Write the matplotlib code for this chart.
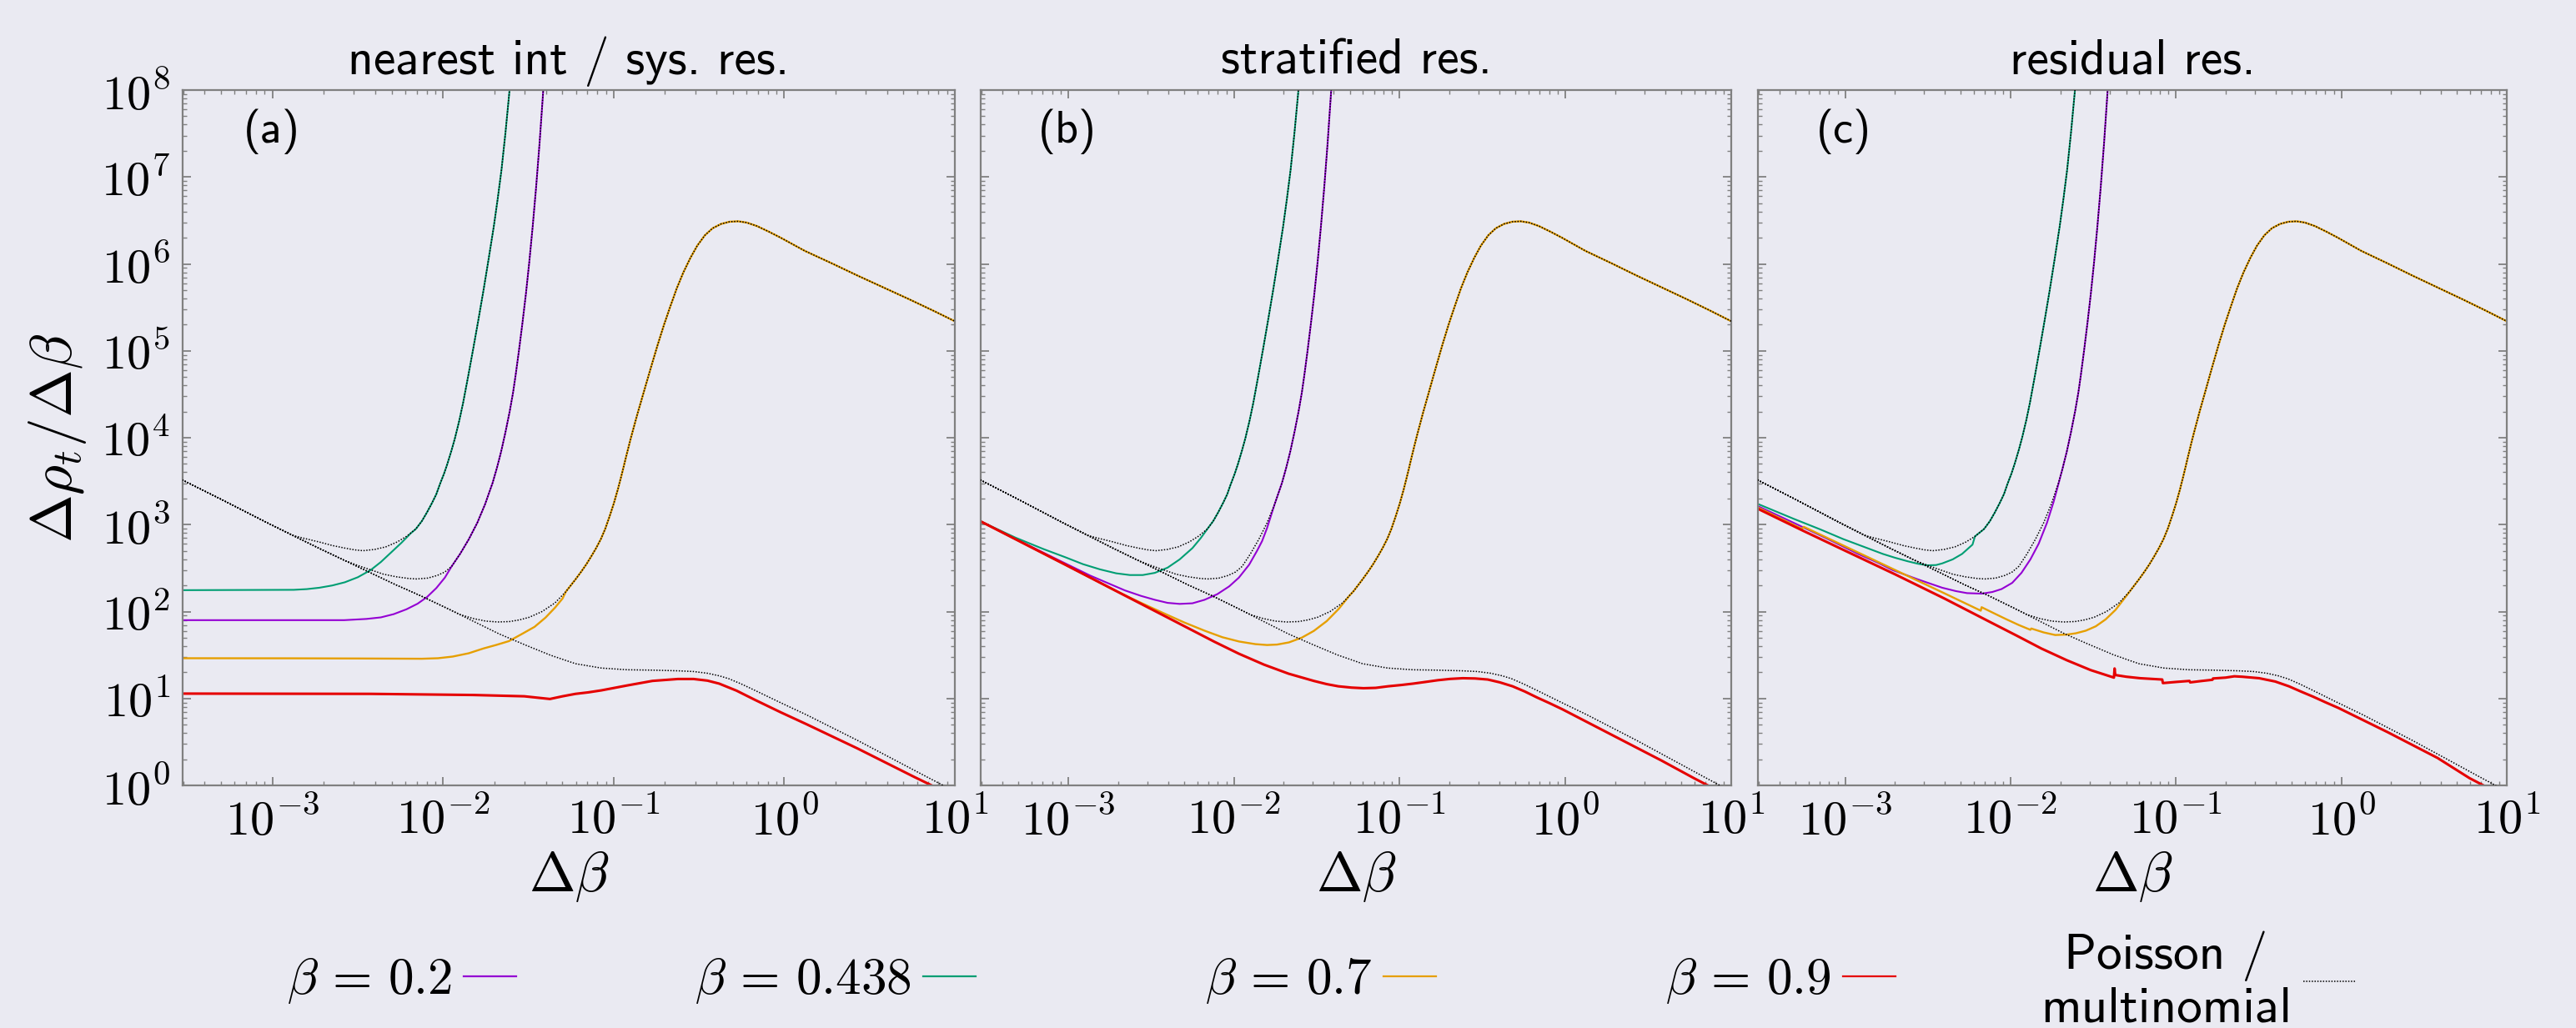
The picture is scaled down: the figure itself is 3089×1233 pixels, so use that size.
import matplotlib
matplotlib.use("Agg")
import numpy as np
import matplotlib.pyplot as plt
from matplotlib.lines import Line2D
from matplotlib.ticker import LogLocator, FuncFormatter, NullFormatter

# ---------------- data ----------------
# all curves given as (log10 of Δβ, log10 of Δρ_t/Δβ)
beta_labels = ["0.2", "0.438", "0.7", "0.9"]
panel_titles = ["nearest int / sys. res.", "stratified res.", "residual res."]
panel_tags = ["(a)", "(b)", "(c)"]
poisson_label = "Poisson /\nmultinomial"

# Poisson / multinomial reference curves (identical in the three panels)
pois_02_lx = [-3.53, -3.30, -3.03, -2.88, -2.73, -2.58, -2.50, -2.425, -2.35, -2.275, -2.20, -2.155,
              -2.09, -2.035, -1.99, -1.95, -1.90, -1.85, -1.80, -1.755, -1.71, -1.685, -1.66, -1.635,
              -1.61, -1.59, -1.575, -1.555, -1.535, -1.515, -1.495, -1.475, -1.455, -1.435, -1.415,
              -1.40]
pois_02_ly = [3.515, 3.29, 3.02, 2.875, 2.73, 2.59, 2.53, 2.48, 2.43, 2.40, 2.38, 2.375,
              2.385, 2.415, 2.455, 2.52, 2.665, 2.83, 3.02, 3.23, 3.48, 3.65, 3.84, 4.06,
              4.30, 4.52, 4.72, 5.01, 5.32, 5.65, 6.02, 6.43, 6.88, 7.38, 7.94,
              8.4]

pois_0438_lx = [-3.53, -3.30, -3.03, -2.88, -2.80, -2.726, -2.65, -2.576, -2.52, -2.47, -2.40, -2.335,
                -2.27, -2.215, -2.16, -2.125, -2.095, -2.065, -2.04, -2.02, -1.995, -1.975, -1.95,
                -1.93, -1.905, -1.883, -1.853, -1.823, -1.793, -1.763, -1.733, -1.703, -1.68, -1.658,
                -1.635, -1.613, -1.59]
pois_0438_ly = [3.515, 3.29, 3.02, 2.875, 2.835, 2.80, 2.76, 2.73, 2.71, 2.70, 2.715, 2.745,
                2.80, 2.865, 2.95, 3.04, 3.14, 3.25, 3.35, 3.46, 3.585, 3.70, 3.86,
                4.00, 4.20, 4.40, 4.71, 5.03, 5.36, 5.70, 6.06, 6.43, 6.75, 7.08,
                7.50, 7.95, 8.45]

pois_07_lx = [-3.53, -3.30, -3.03, -2.88, -2.73, -2.58, -2.43, -2.28, -2.13, -1.98, -1.90, -1.824,
              -1.75, -1.68, -1.61, -1.55, -1.494, -1.42, -1.344, -1.28, -1.224, -1.19, -1.16, -1.13,
              -1.103, -1.075, -1.05, -1.025, -1.0, -0.975, -0.95, -0.925, -0.899, -0.86, -0.82,
              -0.78, -0.742, -0.705, -0.67, -0.63, -0.592, -0.55, -0.51, -0.465, -0.42, -0.37,
              -0.32, -0.27, -0.22, -0.16, -0.09, -0.02, 0.05, 0.12, 0.28, 0.43, 0.58, 0.73, 0.87, 1.0]
pois_07_ly = [3.515, 3.29, 3.02, 2.875, 2.73, 2.59, 2.45, 2.31, 2.18, 2.04, 1.965, 1.92,
              1.89, 1.88, 1.885, 1.905, 1.935, 2.0, 2.10, 2.23, 2.37, 2.46, 2.545, 2.64,
              2.73, 2.835, 2.95, 3.09, 3.24, 3.41, 3.60, 3.80, 4.0, 4.28, 4.55,
              4.82, 5.07, 5.30, 5.5, 5.72, 5.9, 6.07, 6.21, 6.33, 6.41, 6.46,
              6.485, 6.49, 6.475, 6.435, 6.37, 6.30, 6.225, 6.15, 6.005, 5.865, 5.73, 5.595, 5.465, 5.34]

pois_09_lx = [-3.53, -3.30, -3.03, -2.88, -2.73, -2.58, -2.43, -2.28, -2.13, -1.98, -1.83, -1.674,
              -1.524, -1.374, -1.224, -1.073, -0.92, -0.773, -0.62, -0.532, -0.45, -0.38, -0.322,
              -0.25, -0.172, -0.02, 0.129, 0.429, 0.82, 1.0]
pois_09_ly = [3.515, 3.29, 3.02, 2.875, 2.73, 2.59, 2.45, 2.31, 2.18, 2.04, 1.895, 1.745,
              1.62, 1.50, 1.40, 1.35, 1.33, 1.326, 1.318, 1.31, 1.29, 1.26, 1.225,
              1.165, 1.093, 0.95, 0.813, 0.518, 0.114, -0.07]

# ---- panel (a): nearest int / systematic resampling (own part, then it follows Poisson)
a_02_lx = [-3.53, -2.58, -2.45, -2.365, -2.29, -2.215, -2.15, -2.095, -2.04, -1.99]
a_02_ly = [1.901, 1.901, 1.915, 1.933, 1.97, 2.026, 2.09, 2.166, 2.27, 2.39]
a_0438_lx = [-3.53, -2.876, -2.80, -2.726, -2.65, -2.576, -2.50, -2.425, -2.365, -2.305, -2.245, -2.19]
a_0438_ly = [2.246, 2.25, 2.258, 2.274, 2.30, 2.337, 2.395, 2.477, 2.57, 2.68, 2.79, 2.90]
a_07_lx = [-3.53, -2.9, -2.5, -2.125, -2.03, -1.944, -1.85, -1.764, -1.69, -1.614, -1.54, -1.464,
           -1.40, -1.344, -1.30]
a_07_ly = [1.463, 1.462, 1.46, 1.457, 1.463, 1.482, 1.52, 1.575, 1.615, 1.66, 1.74, 1.824,
           1.93, 2.045, 2.15]
a_09_lx = [-3.53, -2.425, -1.824, -1.524, -1.374, -1.30, -1.224, -1.15, -1.073, -0.923, -0.773,
           -0.623, -0.532, -0.45, -0.382, -0.28, -0.172, -0.02, 0.129, 0.429, 0.760, 1.0]
a_09_ly = [1.056, 1.053, 1.040, 1.025, 0.994, 1.025, 1.053, 1.07, 1.093, 1.149, 1.202,
           1.224, 1.224, 1.205, 1.171, 1.09, 0.984, 0.84, 0.705, 0.425, 0.099, -0.13]

# ---- panel (b): stratified resampling
b_02_lx = [-3.53, -3.30, -3.077, -2.867, -2.657, -2.56, -2.477, -2.40, -2.327, -2.25, -2.177, -2.10,
           -2.028, -1.97, -1.908, -1.86, -1.83, -1.80]
b_02_ly = [3.04, 2.82, 2.61, 2.414, 2.243, 2.18, 2.135, 2.10, 2.088, 2.095, 2.135, 2.20,
           2.29, 2.39, 2.539, 2.70, 2.81, 2.96]
b_0438_lx = [-3.53, -3.317, -3.15, -3.017, -2.91, -2.807, -2.71, -2.627, -2.55, -2.477, -2.40, -2.327,
             -2.25, -2.20]
b_0438_ly = [3.04, 2.85, 2.72, 2.625, 2.545, 2.485, 2.44, 2.42, 2.42, 2.445, 2.505, 2.60,
             2.73, 2.845]
b_07_lx = [-3.53, -3.017, -2.717, -2.627, -2.52, -2.417, -2.30, -2.177, -2.07, -1.968, -1.87, -1.80,
           -1.74, -1.668, -1.59, -1.518, -1.44, -1.368, -1.30]
b_07_ly = [3.04, 2.539, 2.243, 2.16, 2.065, 1.975, 1.875, 1.78, 1.705, 1.655, 1.625, 1.615,
           1.62, 1.645, 1.70, 1.777, 1.89, 2.03, 2.19]
b_09_lx = [-3.53, -3.017, -2.717, -2.417, -2.118, -1.97, -1.818, -1.67, -1.518, -1.44, -1.37, -1.29,
           -1.218, -1.145, -1.07, -0.99, -0.918, -0.845, -0.77, -0.695, -0.619, -0.545, -0.469,
           -0.395, -0.319, -0.245, -0.17, -0.095, -0.019, 0.281, 0.580, 0.775, 1.0]
b_09_ly = [3.04, 2.539, 2.243, 1.948, 1.653, 1.515, 1.389, 1.285, 1.202, 1.165, 1.14, 1.125,
           1.118, 1.122, 1.14, 1.155, 1.171, 1.19, 1.21, 1.225, 1.233, 1.23, 1.218,
           1.185, 1.14, 1.08, 1.01, 0.945, 0.876, 0.580, 0.285, 0.083, -0.14]

# ---- panel (c): residual resampling
c_02_lx = [-3.53, -3.311, -3.10, -2.922, -2.80, -2.713, -2.56, -2.413, -2.33, -2.263, -2.174, -2.11,
           -2.054, -1.99, -1.934, -1.88, -1.83, -1.78, -1.74, -1.71]
c_02_ly = [3.215, 3.021, 2.83, 2.663, 2.56, 2.477, 2.37, 2.274, 2.235, 2.212, 2.206, 2.225,
           2.259, 2.33, 2.445, 2.60, 2.78, 3.02, 3.26, 3.47]
c_0438_lx = [-3.53, -3.311, -3.15, -3.012, -2.88, -2.772, -2.70, -2.623, -2.56, -2.503, -2.45, -2.413,
             -2.35, -2.293, -2.23]
c_0438_ly = [3.24, 3.067, 2.945, 2.834, 2.74, 2.663, 2.62, 2.579, 2.55, 2.532, 2.535, 2.554,
             2.60, 2.663, 2.77]
c_07_lx = [-3.53, -3.26, -3.25, -3.0, -2.7, -2.4, -2.18, -2.175, -2.10, -2.024, -1.95, -1.88, -1.875,
           -1.80, -1.73, -1.66, -1.605, -1.545, -1.485, -1.425, -1.365, -1.30]
c_07_ly = [3.20, 2.95, 2.975, 2.75, 2.48, 2.21, 2.01, 2.05, 1.98, 1.91, 1.845, 1.79, 1.805,
           1.76, 1.73, 1.735, 1.75, 1.78, 1.83, 1.91, 2.02, 2.18]
c_09_lx = [-3.53, -3.26, -3.0, -2.7, -2.4, -2.114, -1.96, -1.814, -1.66, -1.515, -1.44, -1.375,
           -1.371, -1.367, -1.30, -1.216, -1.083, -1.079, -1.0, -0.918, -0.914, -0.85, -0.78,
           -0.776, -0.70, -0.647, -0.60, -0.497, -0.40, -0.317, -0.245, -0.17, -0.095, -0.018,
           0.281, 0.581, 0.775, 1.0]
c_09_ly = [3.185, 2.935, 2.70, 2.43, 2.15, 1.87, 1.72, 1.575, 1.44, 1.326, 1.28, 1.24,
           1.345, 1.27, 1.25, 1.233, 1.218, 1.177, 1.19, 1.202, 1.185, 1.20, 1.215,
           1.23, 1.24, 1.255, 1.25, 1.233, 1.195, 1.14, 1.08, 1.02, 0.955, 0.891,
           0.611, 0.316, 0.083, -0.14]

# ---------------- style ----------------
BG = "#eaeaf2"
SPINE = "#808080"
colors = ["#9400d3", "#009e73", "#e69f00", "#e50000"]
widths = [1.5, 1.5, 1.7, 2.2]
POIS_STYLE = dict(color="black", lw=1.1, ls=(0, (1.0, 1.2)))

plt.rcParams["mathtext.fontset"] = "cm"
plt.rcParams["font.family"] = "cmss10"
plt.rcParams["axes.unicode_minus"] = False

W, H, DPI = 3089, 1233, 100
fig = plt.figure(figsize=(W / DPI, H / DPI), dpi=DPI, facecolor=BG)

panel_px = [(219, 1145), (1176, 2076), (2108, 3006)]
top_px, bot_px = 108, 942

pois = [(pois_02_lx, pois_02_ly), (pois_0438_lx, pois_0438_ly),
        (pois_07_lx, pois_07_ly), (pois_09_lx, pois_09_ly)]
panels = [
    [(a_02_lx, a_02_ly), (a_0438_lx, a_0438_ly), (a_07_lx, a_07_ly), (a_09_lx, a_09_ly)],
    [(b_02_lx, b_02_ly), (b_0438_lx, b_0438_ly), (b_07_lx, b_07_ly), (b_09_lx, b_09_ly)],
    [(c_02_lx, c_02_ly), (c_0438_lx, c_0438_ly), (c_07_lx, c_07_ly), (c_09_lx, c_09_ly)],
]


def join_with_poisson(lx, ly, plx, ply):
    """own points, then the Poisson curve beyond the last own point"""
    lx = list(lx); ly = list(ly)
    last = lx[-1]
    for a, b in zip(plx, ply):
        if a > last + 1e-9:
            lx.append(a); ly.append(b)
    return 10 ** np.array(lx), 10 ** np.array(ly)


def fmt(v, pos):
    e = int(round(np.log10(v)))
    return r"$\mathsf{10^{%d}}$" % e


for k, (x0, x1) in enumerate(panel_px):
    ax = fig.add_axes([x0 / W, 1 - bot_px / H, (x1 - x0) / W, (bot_px - top_px) / H])
    ax.set_facecolor(BG)
    ax.set_xscale("log")
    ax.set_yscale("log")
    for j, (lx, ly) in enumerate(panels[k]):
        x, y = join_with_poisson(lx, ly, *pois[j])
        ax.plot(x, y, color=colors[j], lw=widths[j], zorder=2,
                solid_joinstyle="round", solid_capstyle="round")
    for plx, ply in pois:
        ax.plot(10 ** np.array(plx), 10 ** np.array(ply), zorder=3, **POIS_STYLE)
    ax.set_xlim(2.97e-4, 10)
    ax.set_ylim(1, 1e8)
    for s in ax.spines.values():
        s.set_color(SPINE)
        s.set_linewidth(1.6)
    for axis in (ax.xaxis, ax.yaxis):
        axis.set_major_locator(LogLocator(base=10, numticks=20))
        axis.set_minor_locator(LogLocator(base=10, subs=np.arange(2, 10), numticks=200))
        axis.set_minor_formatter(NullFormatter())
        axis.set_major_formatter(FuncFormatter(fmt))
    ax.tick_params(which="both", direction="in", top=True, right=True, color=SPINE)
    ax.tick_params(which="major", length=7, width=1.3, labelsize=42)
    ax.tick_params(axis="x", which="major", pad=10)
    ax.tick_params(axis="y", which="major", pad=11)
    ax.tick_params(which="minor", length=3.5, width=1.0)
    if k > 0:
        ax.tick_params(labelleft=False)
    else:
        ax.set_ylabel(r"$\Delta\rho_t/\Delta\beta$", fontsize=50)
        ax.yaxis.set_label_coords(-0.122, 0.5)
    ax.set_xlabel(r"$\Delta\beta$", fontsize=48)
    ax.xaxis.set_label_coords(0.5, -0.092)
    ax.set_title(panel_titles[k], fontsize=43, pad=14)
    ax.text(0.115, 0.94, panel_tags[k], transform=ax.transAxes, fontsize=39,
            ha="center", va="center")

# legend: five single-entry keys, label to the left of the sample line
handles = [Line2D([], [], color=c, lw=1.6) for c in colors]
handles.append(Line2D([], [], **POIS_STYLE))
labels = [r"$\beta\,=\,\mathsf{%s}$" % b for b in beta_labels] + [poisson_label]
key_right_px = [619, 1170, 1722, 2273, 2825]
for h, lab, xr in zip(handles, labels, key_right_px):
    lg = fig.legend(handles=[h], labels=[lab], loc="center right",
                    bbox_to_anchor=(xr / W, 1 - 1177 / H), frameon=False,
                    markerfirst=False, handlelength=63 / (44 * DPI / 72),
                    handletextpad=14 / (44 * DPI / 72),
                    borderpad=0, borderaxespad=0, fontsize=44)
    for t in lg.get_texts():
        t.set_multialignment("center")
        t.set_linespacing(1.15)

fig.savefig("out.png", dpi=DPI, facecolor=BG)
